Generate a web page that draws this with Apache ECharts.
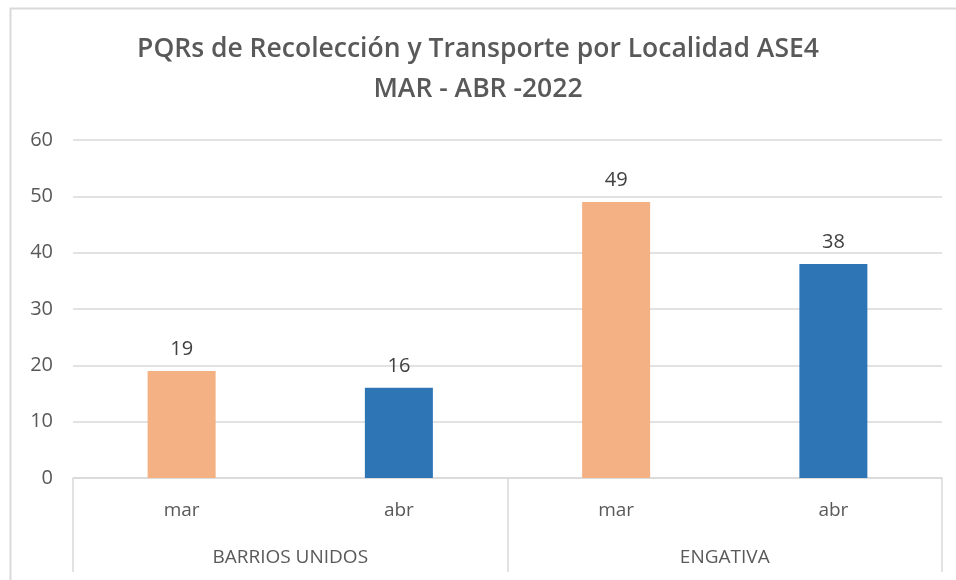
<!DOCTYPE html>
<html>
<head>
<meta charset="utf-8">
<script src="https://cdn.jsdelivr.net/npm/echarts@6/dist/echarts.min.js"></script>
<style>
  html, body { margin: 0; padding: 0; background: #ffffff; }
  #chart { width: 956px; height: 580px; }
</style>
</head>
<body>
<div id="chart"></div>
<script>
// Datos del gráfico
const titulo = 'PQRs de Recolección y Transporte por Localidad ASE4\nMAR - ABR -2022'
const meses = ['mar', 'abr', 'mar', 'abr']
const localidades = ['BARRIOS UNIDOS', 'ENGATIVA']
const valores = [19, 16, 49, 38]
const coloresMes = ['#F4B183', '#2E75B6']

const fuente = '"Open Sans", sans-serif'
const gris = '#d9d9d9'

const chart = echarts.init(document.getElementById('chart'))

chart.setOption({
  animation: false,
  backgroundColor: '#ffffff',
  textStyle: { fontFamily: fuente },
  graphic: [
    {
      type: 'rect',
      shape: { x: 10.5, y: 8.5, width: 960, height: 600 },
      style: { fill: 'none', stroke: gris, lineWidth: 2 },
      silent: true
    }
  ],
  title: {
    text: titulo,
    left: 'center',
    top: 24,
    textStyle: {
      fontFamily: fuente,
      fontSize: 26.5,
      fontWeight: 600,
      color: '#595959',
      lineHeight: 40
    }
  },
  grid: {
    left: 73,
    right: 14,
    top: 140,
    bottom: 102,
    containLabel: false
  },
  xAxis: [
    {
      type: 'category',
      data: meses,
      position: 'bottom',
      axisLine: { show: true, lineStyle: { color: gris, width: 1.5 } },
      axisTick: { show: false },
      axisLabel: { color: '#595959', fontSize: 19, margin: 23 },
      splitLine: { show: false }
    },
    {
      type: 'category',
      data: localidades,
      position: 'bottom',
      axisLine: { show: false },
      axisTick: { show: true, length: 94, lineStyle: { color: gris, width: 1.5 } },
      axisLabel: { color: '#595959', fontSize: 19, margin: 70 },
      splitLine: { show: false }
    }
  ],
  yAxis: {
    type: 'value',
    min: 0,
    max: 60,
    interval: 10,
    axisLine: { show: false },
    axisTick: { show: false },
    axisLabel: { color: '#595959', fontSize: 20, margin: 20 },
    splitLine: { lineStyle: { color: gris, width: 1.5 } }
  },
  series: [
    {
      type: 'bar',
      xAxisIndex: 0,
      data: valores,
      barWidth: 68,
      itemStyle: {
        color: (p) => coloresMes[p.dataIndex % 2]
      },
      label: {
        show: true,
        position: 'top',
        distance: 12,
        color: '#404040',
        fontSize: 20
      }
    }
  ]
})
</script>
</body>
</html>
